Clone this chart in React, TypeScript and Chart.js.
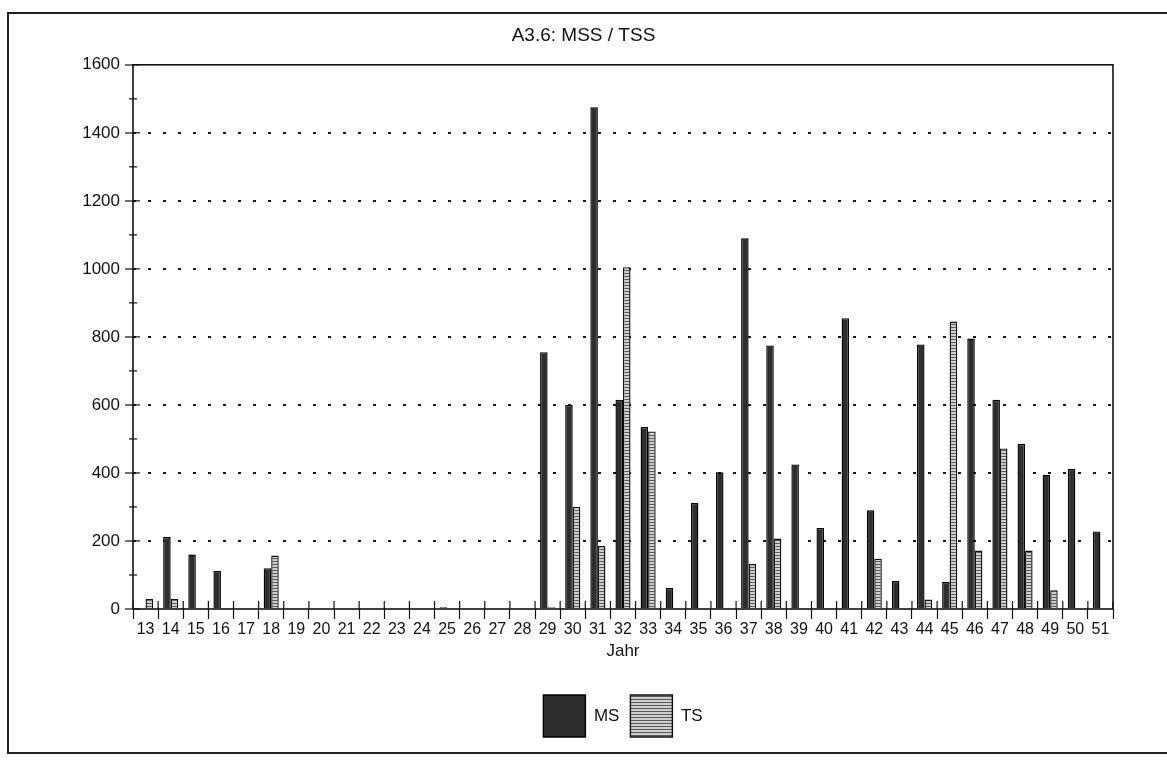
import React, { useEffect, useRef } from 'react';
import { Chart, registerables } from 'chart.js';

Chart.register(...registerables);

// ---- Data ----
const YEARS: string[] = [
  '13', '14', '15', '16', '17', '18', '19', '20', '21', '22',
  '23', '24', '25', '26', '27', '28', '29', '30', '31', '32',
  '33', '34', '35', '36', '37', '38', '39', '40', '41', '42',
  '43', '44', '45', '46', '47', '48', '49', '50', '51',
];

const MS_VALUES: number[] = [
  0, 212, 160, 112, 3, 120, 0, 0, 0, 0,
  0, 0, 5, 0, 0, 0, 755, 600, 1475, 615,
  535, 62, 312, 402, 1090, 775, 425, 238, 855, 290,
  82, 778, 80, 795, 615, 485, 395, 412, 228,
];

const TS_VALUES: number[] = [
  30, 30, 0, 0, 0, 157, 0, 0, 0, 0,
  0, 0, 0, 0, 0, 0, 5, 300, 185, 1005,
  522, 0, 0, 0, 132, 207, 0, 0, 0, 148,
  0, 28, 845, 172, 472, 172, 55, 0, 0,
];

const SERIES_LABELS: string[] = ['MS', 'TS'];
const CHART_TITLE = 'A3.6: MSS / TSS';
const X_TITLE = 'Jahr';
const Y_MIN = 0;
const Y_MAX = 1600;
const Y_STEP = 100;
const Y_LABEL_STEP = 200;

const FONT = "'Liberation Sans', Arial, Helvetica, sans-serif";
const INK = '#111111';

function makeStripePattern(): CanvasPattern | string {
  const c = document.createElement('canvas');
  c.width = 4;
  c.height = 3;
  const g = c.getContext('2d');
  if (!g) return '#aaaaaa';
  g.fillStyle = '#cfcfcf';
  g.fillRect(0, 0, 4, 3);
  g.fillStyle = '#5a5a5a';
  g.fillRect(0, 0, 4, 1);
  return g.createPattern(c, 'repeat') || '#aaaaaa';
}

const decorPlugin = {
  id: 'decor',
  afterDraw(chart: any) {
    const { ctx, chartArea: a, scales } = chart;
    const xs = scales.x;
    const ys = scales.y;
    ctx.save();
    ctx.strokeStyle = INK;
    // plot frame
    ctx.lineWidth = 1.6;
    ctx.strokeRect(a.left, a.top, a.right - a.left, a.bottom - a.top);
    // y ticks: minor ticks cross the axis, major ticks poke inside
    ctx.lineWidth = 1.2;
    ys.ticks.forEach((t: any) => {
      const py = ys.getPixelForValue(t.value);
      ctx.beginPath();
      if (t.value % Y_LABEL_STEP !== 0) {
        ctx.moveTo(a.left - 4, py);
        ctx.lineTo(a.left + 4, py);
      } else {
        ctx.moveTo(a.left, py);
        ctx.lineTo(a.left + 7, py);
      }
      ctx.stroke();
    });
    // x ticks: upper part above the axis, between categories
    const n = xs.ticks.length;
    const half = (xs.getPixelForValue(1) - xs.getPixelForValue(0)) / 2;
    for (let i = 0; i <= n; i++) {
      const px = xs.getPixelForValue(i) - half;
      ctx.beginPath();
      ctx.moveTo(px, a.bottom - 8);
      ctx.lineTo(px, a.bottom);
      ctx.stroke();
    }
    ctx.restore();
  },
};

export default function App() {
  const canvasRef = useRef<HTMLCanvasElement | null>(null);

  useEffect(() => {
    const canvas = canvasRef.current;
    if (!canvas) return;
    const stripe = makeStripePattern();

    const chart = new Chart(canvas, {
      type: 'bar',
      data: {
        labels: YEARS,
        datasets: [
          {
            label: SERIES_LABELS[0],
            data: MS_VALUES,
            backgroundColor: '#2e2e2e',
            borderColor: '#000000',
            borderWidth: 1.4,
            barPercentage: 1.0,
            categoryPercentage: 0.6,
          },
          {
            label: SERIES_LABELS[1],
            data: TS_VALUES,
            backgroundColor: stripe as any,
            borderColor: '#111111',
            borderWidth: 1.4,
            barPercentage: 1.0,
            categoryPercentage: 0.6,
          },
        ],
      },
      options: {
        responsive: false,
        animation: false,
        maintainAspectRatio: false,
        layout: { padding: { left: 0, right: 0, top: 0, bottom: 15 } },
        plugins: {
          title: {
            display: true,
            text: CHART_TITLE,
            color: INK,
            font: { family: FONT, size: 19, weight: 'normal' },
            padding: { top: 24, bottom: 18 },
          },
          legend: {
            display: true,
            position: 'bottom',
            fullSize: false,
            labels: {
              boxWidth: 42,
              boxHeight: 42,
              padding: 11,
              color: INK,
              font: { family: FONT, size: 17 },
            },
          },
          tooltip: { enabled: false },
        },
        scales: {
          x: {
            type: 'category',
            offset: true,
            grid: {
              display: true,
              offset: true,
              drawOnChartArea: false,
              drawTicks: true,
              tickLength: 10,
              tickColor: INK,
              tickWidth: 1.2,
            },
            border: { display: false },
            ticks: {
              color: INK,
              font: { family: FONT, size: 16 },
              padding: 1,
              maxRotation: 0,
              minRotation: 0,
              autoSkip: false,
            },
            title: {
              display: true,
              text: X_TITLE,
              color: INK,
              font: { family: FONT, size: 17 },
              padding: { top: 2, bottom: 22 },
            },
            afterFit: (s: any) => {
              s.height = 75;
            },
          },
          y: {
            type: 'linear',
            position: 'left',
            min: Y_MIN,
            max: Y_MAX,
            grid: {
              display: true,
              drawOnChartArea: true,
              drawTicks: true,
              tickLength: 8,
              lineWidth: 2,
              color: (c: any) => {
                const v = c.tick ? c.tick.value : 0;
                return v > Y_MIN && v < Y_MAX && v % Y_LABEL_STEP === 0 ? '#1a1a1a' : 'rgba(0,0,0,0)';
              },
              tickColor: (c: any) => {
                const v = c.tick ? c.tick.value : 0;
                return v % Y_LABEL_STEP === 0 ? INK : 'rgba(0,0,0,0)';
              },
              tickWidth: 1.2,
            },
            border: { display: false, dash: [3, 12] },
            ticks: {
              stepSize: Y_STEP,
              color: INK,
              padding: 5,
              font: { family: FONT, size: 17 },
              callback: (v: any) => (Number(v) % Y_LABEL_STEP === 0 ? String(v) : ''),
            },
            afterFit: (s: any) => {
              s.width = 133;
            },
          },
          yR: {
            type: 'linear',
            position: 'right',
            display: true,
            grid: { display: false, drawTicks: false },
            border: { display: false },
            ticks: { display: false },
            afterFit: (s: any) => {
              s.width = 54;
            },
          },
        },
      } as any,
      plugins: [decorPlugin],
    });

    return () => {
      chart.destroy();
    };
  }, []);

  return (
    <div
      style={{
        position: 'absolute',
        left: 0,
        top: 0,
        width: 1167,
        height: 762,
        overflow: 'hidden',
        background: '#ffffff',
      }}
    >
      <div
        style={{
          position: 'absolute',
          left: 7,
          top: 12,
          width: 1220,
          height: 742,
          border: '2px solid #222',
          boxSizing: 'border-box',
        }}
      />
      <canvas
        ref={canvasRef}
        width={1167}
        height={762}
        style={{ position: 'absolute', left: 0, top: 0, width: 1167, height: 762, display: 'block' }}
      />
    </div>
  );
}
